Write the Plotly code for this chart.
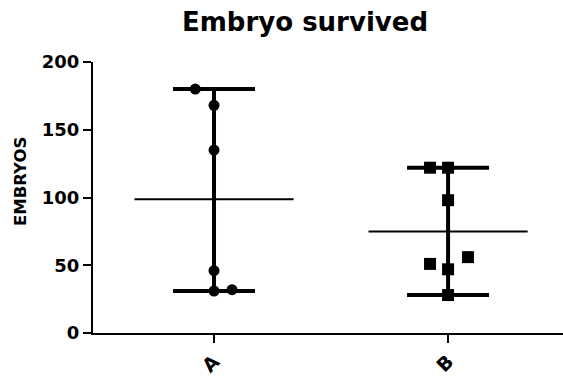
import numpy as np
import plotly.graph_objects as go

categories = ["A", "B"]
values_A = [180, 168, 135, 46, 31, 32]
values_B = [122, 122, 98, 51, 56, 47, 28]
y_ticks = [0, 50, 100, 150, 200]

# horizontal scatter offsets (style only)
jitter_A = [-0.08, 0, 0, 0, 0, 0.077]
jitter_B = [-0.077, 0, 0, -0.077, 0.085, 0, 0]

groups = [values_A, values_B]
jitters = [jitter_A, jitter_B]
symbols = ["circle", "square"]
sizes = [11, 12]

fig = go.Figure()
for i, (vals, jit) in enumerate(zip(groups, jitters)):
    v = np.array(vals, dtype=float)
    m = v.mean()
    # range whisker (min-max) with caps
    fig.add_trace(go.Scatter(
        x=[i], y=[m], mode="markers",
        marker=dict(size=1, color="rgba(0,0,0,0)"),
        error_y=dict(type="data", symmetric=False,
                     array=[v.max() - m], arrayminus=[m - v.min()],
                     color="black", thickness=4, width=41),
        showlegend=False, hoverinfo="skip"))
    # mean line
    fig.add_trace(go.Scatter(
        x=[i - 0.34, i + 0.34], y=[m, m], mode="lines",
        line=dict(color="black", width=2),
        showlegend=False, hoverinfo="skip"))
    # points
    fig.add_trace(go.Scatter(
        x=[i + j for j in jit], y=vals, mode="markers",
        marker=dict(symbol=symbols[i], size=sizes[i], color="black"),
        showlegend=False))

font_main = "DejaVu Sans"
fig.update_layout(
    width=563, height=376,
    margin=dict(l=93, r=0, t=62, b=43),
    paper_bgcolor="white", plot_bgcolor="white",
    title=dict(text="<b>Embryo survived</b>", x=(305) / 563, xanchor="center",
               y=1 - 22 / 376, yanchor="middle",
               font=dict(family=font_main, size=26, color="black")),
    xaxis=dict(range=[-0.517, 1.491], tickmode="array", tickvals=[0, 1],
               ticktext=["<b>%s</b>" % c for c in categories], tickangle=-45,
               showline=True, linecolor="black", linewidth=2,
               ticks="outside", ticklen=8, tickwidth=2, tickcolor="black",
               showgrid=False, zeroline=False,
               tickfont=dict(family=font_main, size=19, color="black")),
    yaxis=dict(range=[0, 200], tickvals=y_ticks,
               ticktext=["<b>%d</b>" % t for t in y_ticks],
               showline=True, linecolor="black", linewidth=2,
               ticks="outside", ticklen=8, tickwidth=2, tickcolor="black",
               showgrid=False, zeroline=False,
               tickfont=dict(family=font_main, size=18, color="black")),
    annotations=[dict(text="<b>EMBRYOS</b>", xref="paper", yref="paper",
                      x=(20 - 93) / 470, y=0.557, xanchor="center", yanchor="middle",
                      textangle=-90, showarrow=False,
                      font=dict(family=font_main, size=16.5, color="black"))],
)

fig.write_html("out.html", config={"displayModeBar": False},
               post_script="document.body.style.margin='0';")
